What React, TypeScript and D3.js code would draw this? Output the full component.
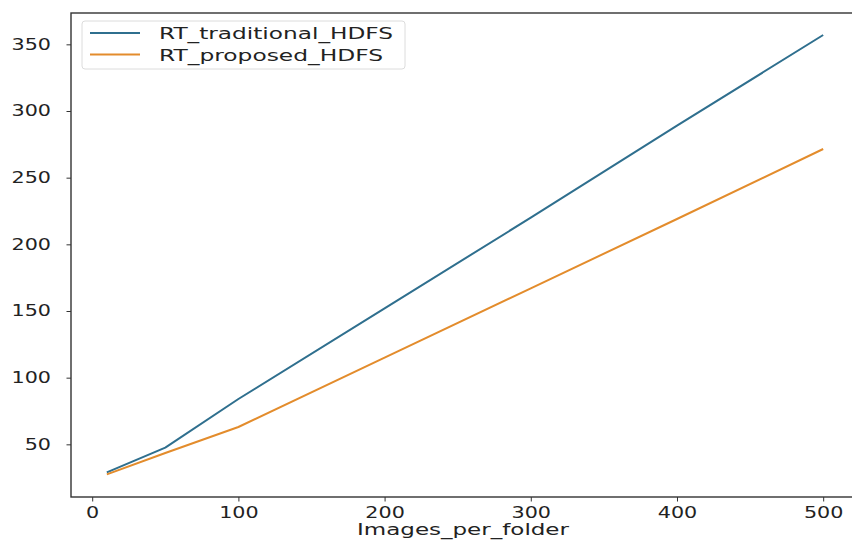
import React, { useEffect, useRef } from 'react';
import * as d3 from 'd3';

// images per folder on the x axis
const imagesPerFolder = [10, 50, 100, 200, 300, 400, 500];
// response time, traditional HDFS
const rtTraditional = [29, 47.5, 84, 152, 220, 289, 357];
// response time, proposed HDFS
const rtProposed = [27.5, 43.5, 63, 115, 167, 219, 271.5];

const seriesNames = ['RT_traditional_HDFS', 'RT_proposed_HDFS'];
const seriesColors = ['#2f6f8e', '#e38c2c'];
const xTicks = [0, 100, 200, 300, 400, 500];
const yTicks = [50, 100, 150, 200, 250, 300, 350];
const xLabel = 'Images_per_folder';

const W = 852;
const H = 540;
const FONT = 'DejaVu Sans, sans-serif';
const STRETCH = 1.38;

export default function App() {
    const ref = useRef<SVGSVGElement>(null);

    useEffect(() => {
        const svg = d3.select(ref.current);
        svg.selectAll('*').remove();

        const left = 71, right = 859, top = 13, bottom = 497;

        const x = d3.scaleLinear().domain([-14.5, 524.5]).range([left, right]);
        const y = d3.scaleLinear().domain([10.5, 373.5]).range([bottom, top]);

        const line = d3.line<number>()
            .x((d, i) => x(imagesPerFolder[i]))
            .y(d => y(d));

        [rtTraditional, rtProposed].forEach((vals, i) => {
            svg.append('path')
                .datum(vals)
                .attr('d', line)
                .attr('fill', 'none')
                .attr('stroke', seriesColors[i])
                .attr('stroke-width', 2)
                .attr('stroke-linejoin', 'round');
        });

        // spines
        svg.append('rect')
            .attr('x', left)
            .attr('y', top)
            .attr('width', right - left)
            .attr('height', bottom - top)
            .attr('fill', 'none')
            .attr('stroke', '#333')
            .attr('stroke-width', 1.4);

        const xAxis = d3.axisBottom(x).tickValues(xTicks).tickSize(4.5).tickPadding(6);
        const gx = svg.append('g').attr('transform', `translate(0,${bottom})`).call(xAxis);
        gx.select('.domain').remove();
        gx.selectAll('line').attr('stroke', '#333');
        gx.selectAll('text')
            .attr('font-family', FONT)
            .attr('font-size', 15)
            .attr('fill', '#222')
            .attr('transform', `scale(${STRETCH},1)`);

        const yAxis = d3.axisLeft(y).tickValues(yTicks).tickSize(4.5).tickPadding(0);
        const gy = svg.append('g').attr('transform', `translate(${left},0)`).call(yAxis);
        gy.select('.domain').remove();
        gy.selectAll('line').attr('stroke', '#333');
        gy.selectAll('text')
            .attr('font-family', FONT)
            .attr('font-size', 15)
            .attr('fill', '#222')
            .attr('x', -20 / STRETCH)
            .attr('transform', `scale(${STRETCH},1)`);

        svg.append('text')
            .attr('x', 463)
            .attr('y', 535)
            .attr('text-anchor', 'middle')
            .attr('font-family', FONT)
            .attr('font-size', 15.5)
            .attr('fill', '#222')
            .attr('textLength', 212)
            .attr('lengthAdjust', 'spacingAndGlyphs')
            .text(xLabel);

        // legend
        const lg = svg.append('g');
        lg.append('rect')
            .attr('x', 82)
            .attr('y', 21)
            .attr('width', 323)
            .attr('height', 48)
            .attr('rx', 3)
            .attr('fill', 'white')
            .attr('fill-opacity', 0.8)
            .attr('stroke', '#dcdcdc');
        const textWidths = [234, 224];
        seriesNames.forEach((name, i) => {
            const ly = 33 + i * 21.5;
            lg.append('line')
                .attr('x1', 90)
                .attr('x2', 140)
                .attr('y1', ly)
                .attr('y2', ly)
                .attr('stroke', seriesColors[i])
                .attr('stroke-width', 2);
            lg.append('text')
                .attr('x', 159)
                .attr('y', ly + 6)
                .attr('font-family', FONT)
                .attr('font-size', 16.5)
                .attr('fill', '#222')
                .attr('textLength', textWidths[i])
                .attr('lengthAdjust', 'spacingAndGlyphs')
                .text(name);
        });
    }, []);

    return (
        <svg
            ref={ref}
            width={W}
            height={H}
            style={{ position: 'absolute', left: 0, top: 0, background: 'white' }}
        />
    );
}
